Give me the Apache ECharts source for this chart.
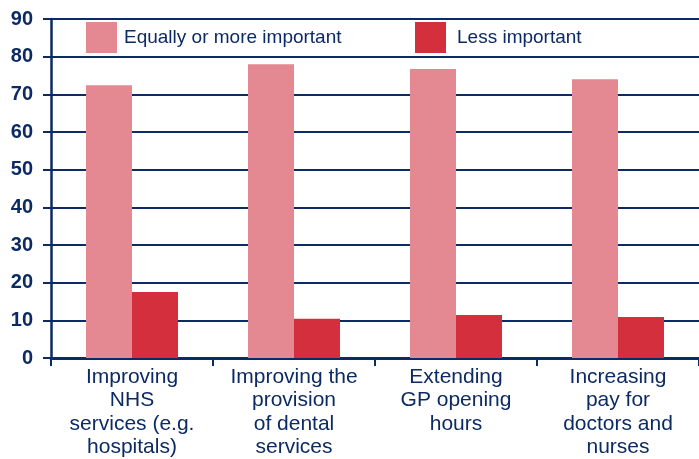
<!DOCTYPE html>
<html>
<head>
<meta charset="utf-8">
<script src="https://cdn.jsdelivr.net/npm/echarts@6/dist/echarts.min.js"></script>
<style>html,body{margin:0;padding:0;background:#fff;}#c{width:699px;height:459px;}</style>
</head>
<body>
<div id="c"></div>
<script>
var categories = [
  "Improving\nNHS\nservices (e.g.\nhospitals)",
  "Improving the\nprovision\nof dental\nservices",
  "Extending\nGP opening\nhours",
  "Increasing\npay for\ndoctors and\nnurses"
];
var seriesNames = ["Equally or more important", "Less important"];
var equallyOrMore = [72.4, 78.0, 76.7, 74.0];
var lessImportant = [17.5, 10.4, 11.4, 10.9];
var yTicks = {min: 0, max: 90, interval: 10};

var navy = '#0c2a63';
var chart = echarts.init(document.getElementById('c'));
chart.setOption({
  animation: false,
  grid: {left: 51, right: -8, top: 19, bottom: 101, containLabel: false},
  legend: [
    {data: [seriesNames[0]], left: 86, top: 22, padding: 0, itemWidth: 31, itemHeight: 31, icon: 'rect',
     textStyle: {color: navy, fontSize: 19, fontFamily: 'Liberation Sans', padding: [0,0,0,2]}},
    {data: [seriesNames[1]], left: 415, top: 22, padding: 0, itemWidth: 31, itemHeight: 31, icon: 'rect',
     textStyle: {color: navy, fontSize: 19, fontFamily: 'Liberation Sans', padding: [0,0,0,6]}}
  ],
  xAxis: {
    type: 'category', data: categories,
    axisLine: {lineStyle: {color: navy, width: 3}},
    axisTick: {show: true, length: 8, lineStyle: {color: navy, width: 2}},
    axisLabel: {color: navy, fontSize: 21, fontFamily: 'Liberation Sans', lineHeight: 23.5, margin: 7, interval: 0}
  },
  yAxis: {
    type: 'value', min: yTicks.min, max: yTicks.max, interval: yTicks.interval,
    axisLine: {show: true, lineStyle: {color: navy, width: 2.5}},
    axisTick: {show: true, length: 8, lineStyle: {color: navy, width: 2}},
    splitLine: {lineStyle: {color: navy, width: 2}},
    axisLabel: {color: navy, fontSize: 20, fontWeight: 'bold', fontFamily: 'Liberation Sans', margin: 18}
  },
  series: [
    {name: seriesNames[0], type: 'bar', data: equallyOrMore, barWidth: 46, barGap: '0%',
     itemStyle: {color: '#e48891'}},
    {name: seriesNames[1], type: 'bar', data: lessImportant, barWidth: 46, barGap: '0%',
     itemStyle: {color: '#d42f3c'}}
  ]
});
</script>
</body>
</html>
